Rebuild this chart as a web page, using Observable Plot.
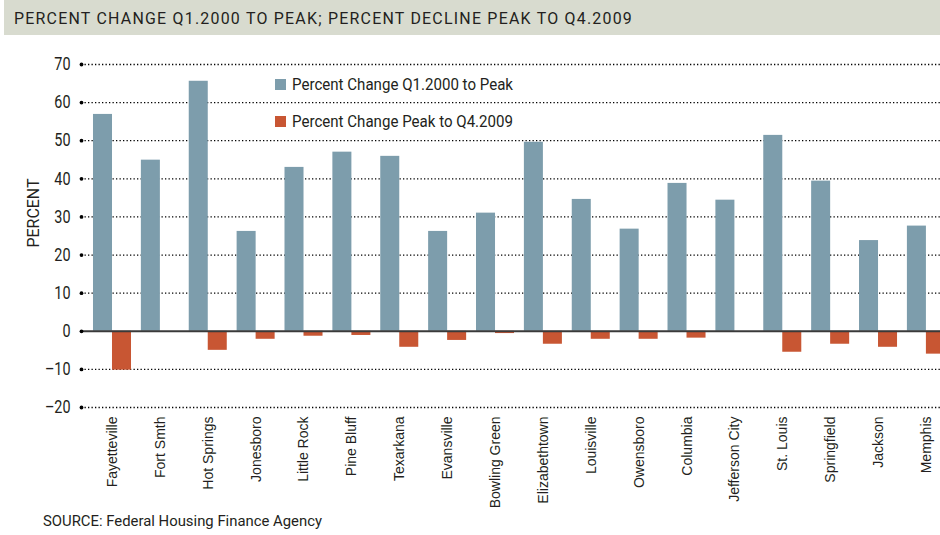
<!DOCTYPE html>
<html><head><meta charset="utf-8">
<script src="https://cdn.jsdelivr.net/npm/d3@7"></script>
<script src="https://cdn.jsdelivr.net/npm/@observablehq/plot@0.6"></script>
<style>
html,body{margin:0;padding:0;}
body{width:940px;height:535px;overflow:hidden;background:#fff;position:relative;font-family:Roboto,"Liberation Sans",sans-serif;color:#231f20;}
#title{position:absolute;left:4px;top:0;width:936px;height:35px;background:#d8dbcf;}
#title span{position:absolute;left:10px;top:8px;font-size:17px;letter-spacing:1.3px;white-space:nowrap;display:inline-block;transform-origin:0 50%;}
#chart{position:absolute;left:0;top:36px;}
.leg{position:absolute;left:275px;font-size:17px;white-space:nowrap;display:flex;align-items:center;}
.leg i{display:inline-block;width:11px;height:11px;margin-right:6px;flex:none;}
.leg span{display:inline-block;transform-origin:0 50%;}
#caption{position:absolute;left:43px;top:512px;font-size:15px;white-space:nowrap;display:inline-block;transform-origin:0 50%;}
</style>
</head><body>
<div id="title"><span data-fit="619">PERCENT CHANGE Q1.2000 TO PEAK; PERCENT DECLINE PEAK TO Q4.2009</span></div>
<div id="chart"></div>
<div class="leg" id="leg0" style="top:74px"><i></i><span data-fit="221"></span></div>
<div class="leg" id="leg1" style="top:111px"><i></i><span data-fit="221"></span></div>
<div id="caption" data-fit="279">SOURCE: Federal Housing Finance Agency</div>
<script>
const cities = ["Fayetteville","Fort Smth","Hot Springs","Jonesboro","Little Rock","Pine Bluff","Texarkana","Evansville","Bowling Green","Elizabethtown","Louisville","Owensboro","Columbia","Jefferson City","St. Louis","Springfield","Jackson","Memphis"];
const risePct = [56.9, 44.9, 65.6, 26.2, 43.0, 47.0, 45.9, 26.2, 31.0, 49.6, 34.6, 26.8, 38.8, 34.4, 51.4, 39.4, 23.8, 27.6];
const declinePct = [-10.2, 0, -5.0, -2.1, -1.3, -1.1, -4.2, -2.4, -0.6, -3.4, -2.1, -2.1, -1.8, 0, -5.5, -3.4, -4.2, -6.0];
const yTicks = [-20, -10, 0, 10, 20, 30, 40, 50, 60, 70];
const seriesNames = ["Percent Change Q1.2000 to Peak", "Percent Change Peak to Q4.2009"];
const seriesColors = ["#7d9dac", "#c85633"];

const rise = cities.map((c, i) => ({city: c, value: risePct[i]}));
const decline = cities.map((c, i) => ({city: c, value: declinePct[i]}));

const plot = Plot.plot({
  width: 940, height: 480,
  marginLeft: 81, marginRight: 0, marginTop: 28, marginBottom: 109,
  style: {fontFamily: 'Roboto,"Liberation Sans",sans-serif', color: "#231f20", overflow: "hidden", background: "transparent"},
  x: {domain: cities, range: [88.2, 949.7], paddingInner: 0.206, paddingOuter: 0.1, round: false},
  y: {domain: [-20, 70]},
  marks: [
    Plot.ruleY(yTicks.filter(d => d !== 0), {stroke: "#000", strokeDasharray: "1.3,2.2", strokeWidth: 1.3}),
    Plot.barY(rise, {x: "city", y: "value", fill: seriesColors[0], insetRight: 19}),
    Plot.barY(decline, {x: "city", y: "value", fill: seriesColors[1], insetLeft: 19}),
    Plot.ruleY([0], {stroke: "#3a3a3a", strokeWidth: 2}),
    Plot.dot(yTicks, {y: d => d, frameAnchor: "left", r: 1.9, fill: "#000"}),
    Plot.axisY(yTicks, {tickSize: 0, tickPadding: 11, fontSize: 18, label: null,
      tickFormat: d => d < 0 ? "\u2013" + Math.abs(d) : String(d)}),
    Plot.axisX({tickRotate: -90, tickSize: 0, tickPadding: 9, fontSize: 14, label: null,
      fontFamily: '"Liberation Sans",Arial,sans-serif'}),
    Plot.text(["PERCENT"], {text: d => d, frameAnchor: "left", textAnchor: "middle", rotate: -90, dx: -48, dy: -23,
      fontSize: 16, fill: "#231f20"})
  ]
});
document.getElementById("chart").appendChild(plot);

// condense the tick labels and axis title to mimic the reference's narrow face
d3.select(plot).selectAll('g[aria-label="y-axis tick label"] text').each(function () {
  const w = this.getComputedTextLength();
  this.setAttribute("textLength", (w * 0.8).toFixed(1));
  this.setAttribute("lengthAdjust", "spacingAndGlyphs");
});
d3.select(plot).selectAll('g[aria-label="text"] text').each(function () {
  this.setAttribute("textLength", 69);
  this.setAttribute("lengthAdjust", "spacingAndGlyphs");
});

[0, 1].forEach(i => {
  const el = document.getElementById("leg" + i);
  el.querySelector("i").style.background = seriesColors[i];
  el.querySelector("span").textContent = seriesNames[i];
});
document.querySelectorAll("[data-fit]").forEach(el => {
  const w = el.getBoundingClientRect().width;
  el.style.transform = `scaleX(${(+el.dataset.fit / w).toFixed(4)})`;
});
</script>
</body></html>
